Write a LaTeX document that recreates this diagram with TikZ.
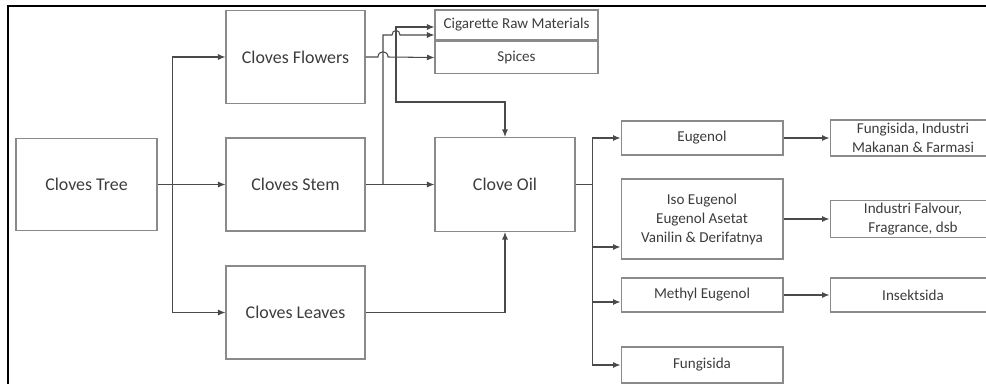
\documentclass[tikz,border=0pt]{standalone}
\usepackage{fontspec}
\setmainfont{Carlito}
\usetikzlibrary{arrows.meta,calc}
\definecolor{boxgray}{HTML}{8A8A8A}
\definecolor{linegray}{HTML}{4A4A4A}
\definecolor{txtgray}{HTML}{3C3C3C}
\tikzset{
  box/.style={draw=boxgray, line width=0.6pt, align=center, text=txtgray, inner sep=0pt,
    font=\fontsize{10.2}{12.5}\selectfont},
  smallbox/.style={box, font=\fontsize{8.6}{10.8}\selectfont},
  link/.style={draw=linegray, line width=0.6pt},
  arr/.style={link, -{Latex[length=1.5mm,width=1.2mm]}}
}
\begin{document}
\begin{tikzpicture}[x=0.02cm,y=-0.02cm]
            \useasboundingbox (0,0) rectangle (986,383);
            \clip (0,0) rectangle (986,383);
            
            % Drawing frame
            \draw [line width=1.1pt] (8,400) -- (8,6) -- (1000,6);%
            
            % Drawing boxes of the tree parts
            \node [box, minimum width=2.82cm, minimum height=1.84cm] (tree) at (86.5,184.5) {Cloves Tree};%
            \node [box, minimum width=2.78cm, minimum height=1.86cm] (flowers) at (295.5,57) {Cloves Flowers};%
            \node [box, minimum width=2.78cm, minimum height=1.86cm] (stem) at (295.5,184.5) {Cloves Stem};%
            \node [box, minimum width=2.78cm, minimum height=1.86cm] (leaves) at (295.5,312.5) {Cloves Leaves};%
            
            % Drawing boxes of the first products
            \node [smallbox, minimum width=3.26cm, minimum height=0.60cm] (cigarette) at (516.5,25) {Cigarette Raw Materials};%
            \node [smallbox, minimum width=3.26cm, minimum height=0.64cm] (spices) at (516.5,57.5) {Spices};%
            \node [box, minimum width=2.80cm, minimum height=1.88cm] (oil) at (505,184.5) {Clove Oil};%
            
            % Drawing boxes of the oil products
            \node [smallbox, minimum width=3.24cm, minimum height=0.68cm] (eugenol) at (702,138) {Eugenol};%
            \node [smallbox, minimum width=3.24cm, minimum height=1.60cm] (iso) at (702,219) {Iso Eugenol\\Eugenol Asetat\\Vanilin \& Derifatnya};%
            \node [smallbox, minimum width=3.24cm, minimum height=0.68cm] (methyl) at (702,295) {Methyl Eugenol};%
            \node [smallbox, minimum width=3.24cm, minimum height=0.72cm] (fungisida) at (702,365) {Fungisida};%
            
            % Drawing boxes of the uses
            \node [smallbox, minimum width=3.32cm, minimum height=0.72cm] (food) at (913,138) {Fungisida, Industri\\Makanan \& Farmasi};%
            \node [smallbox, minimum width=3.32cm, minimum height=0.74cm] (flavour) at (913,219) {Industri Falvour,\\Fragrance, dsb};%
            \node [smallbox, minimum width=3.32cm, minimum height=0.68cm] (insektisida) at (913,295) {Insektsida};%
            
            % Drawing links from Cloves Tree
            \draw [link] (tree.east) -- ++(15,0) coordinate (tj);%
            \draw [arr] (tj) |- (flowers.west);%
            \draw [arr] (tree.east) -- (stem.west);%
            \draw [arr] (tj) |- (leaves.west);%
            
            % Drawing links from Cloves Flowers
            \coordinate (fj) at (396,57);%
            \draw [arr] (flowers.east) -- (378,57) .. controls (378,50) and (388,50) .. (388,57) -- (spices.west);%
            \draw [arr] (fj) |- ($(cigarette.west)+(0,2)$);%
            \draw [arr] (fj) -- (396,102) -| (oil.north);%
            
            % Drawing links from Cloves Stem
            \coordinate (sj) at (383,184.5);%
            \draw [arr] (stem.east) -- (oil.west);%
            \draw [arr] (sj) -- (383,35) -- (392,35) .. controls (392,29) and (400,29) .. (400,35) -- ($(cigarette.west)+(0,10)$);%
            
            % Drawing link from Cloves Leaves
            \draw [arr] (leaves.east) -| (oil.south);%
            
            % Drawing links from Clove Oil
            \draw [link] (oil.east) -- ++(17,0) coordinate (oj);%
            \draw [arr] (oj) |- (eugenol.west);%
            \draw [arr] (oj) |- ($(iso.west)+(0,28)$);%
            \draw [arr] (oj) |- ($(methyl.west)+(0,7)$);%
            \draw [arr] (oj) |- (fungisida.west);%
            
            % Drawing links to the uses
            \draw [arr] (eugenol.east) -- (food.west);%
            \draw [arr] (iso.east) -- (flavour.west);%
            \draw [arr] (methyl.east) -- (insektisida.west);%
        \end{tikzpicture}
\end{document}
